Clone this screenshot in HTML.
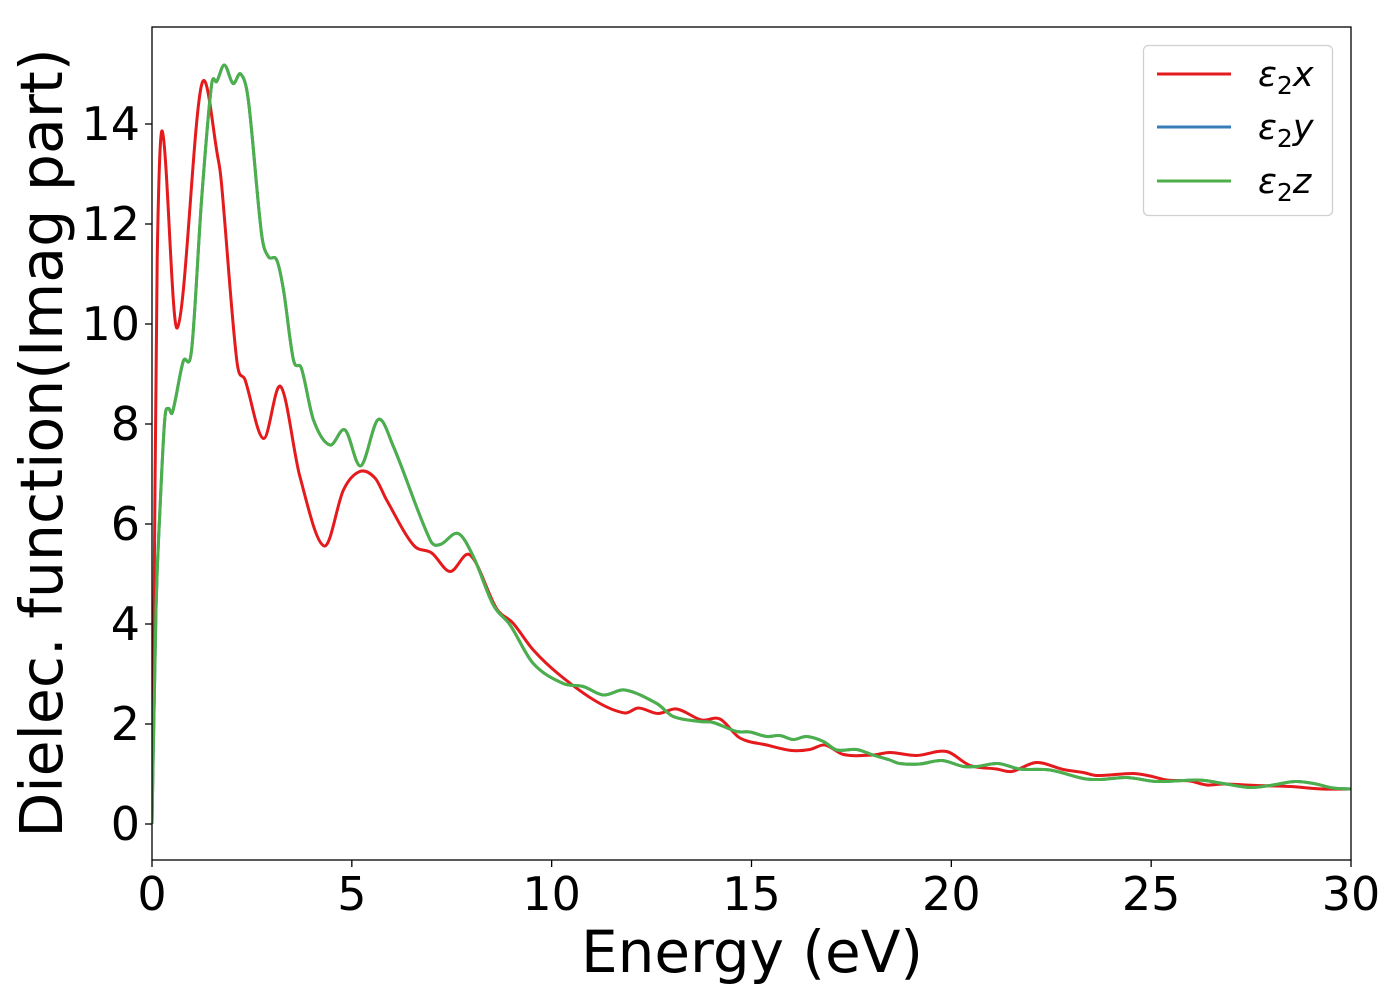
<!DOCTYPE html>
<html><head><meta charset="utf-8"><style>
html,body{margin:0;padding:0;background:#fff;}
svg{display:block;font-family:"DejaVu Sans","Liberation Sans",sans-serif;}
</style></head><body>
<svg id="chart" width="1400" height="1000" viewBox="0 0 1400 1000">
<defs><clipPath id="clip"><rect x="152" y="27" width="1199" height="833"/></clipPath></defs>
<rect x="0" y="0" width="1400" height="1000" fill="#fff"/>
<g id="series" clip-path="url(#clip)"></g>
<rect x="152" y="27" width="1199" height="833" fill="none" stroke="#000" stroke-width="1.3"/>
<g id="xticks"></g>
<g id="yticks"></g>
<text x="752" y="972" font-size="58" text-anchor="middle">Energy (eV)</text>
<text transform="translate(62,443) rotate(-90)" font-size="58.5" text-anchor="middle">Dielec. function(Imag part)</text>
<g>
<rect x="1143.5" y="45.5" width="189" height="170" rx="5" fill="#fff" fill-opacity="0.8" stroke="#d0d0d0" stroke-width="1.3"/>
<g><line x1="1157" y1="74" x2="1231" y2="74" stroke="#e41a1c" stroke-width="3"/><text x="1258" y="86" font-size="35" font-style="italic">ε<tspan font-style="normal" font-size="25" dy="8">2</tspan><tspan dy="-8">x</tspan></text></g>
<g><line x1="1157" y1="127" x2="1231" y2="127" stroke="#377eb8" stroke-width="3"/><text x="1258" y="139" font-size="35" font-style="italic">ε<tspan font-style="normal" font-size="25" dy="8">2</tspan><tspan dy="-8">y</tspan></text></g>
<g><line x1="1157" y1="181" x2="1231" y2="181" stroke="#4daf4a" stroke-width="3"/><text x="1258" y="193" font-size="35" font-style="italic">ε<tspan font-style="normal" font-size="25" dy="8">2</tspan><tspan dy="-8">z</tspan></text></g>
</g>
</svg>
<script>
const xTicks=[0,5,10,15,20,25,30];
const yTicks=[0,2,4,6,8,10,12,14];
const redE=[0,0.05,0.13,0.26,0.63,1.24,1.66,1.74,2.12,2.33,2.79,3.22,3.70,4.31,4.79,5.20,5.58,5.87,6.54,7.0,7.46,7.96,8.62,9.03,9.54,10.2,11.12,11.83,12.17,12.66,13.13,13.75,14.21,14.71,15.38,16.0,16.46,16.84,17.3,18.04,18.46,19.13,19.88,20.47,21.13,21.51,22.13,22.8,23.3,23.63,24.55,24.97,25.39,25.97,26.39,26.81,27.64,28.47,29.3,30];
const redV=[0,4.3,11.3,13.85,9.92,14.78,13.28,12.8,9.28,8.88,7.71,8.75,6.95,5.56,6.68,7.05,6.92,6.48,5.58,5.42,5.05,5.38,4.31,4.02,3.48,2.98,2.45,2.22,2.32,2.21,2.3,2.08,2.1,1.72,1.58,1.47,1.49,1.58,1.39,1.38,1.43,1.37,1.45,1.17,1.1,1.05,1.23,1.09,1.03,0.97,1.01,0.96,0.88,0.86,0.78,0.8,0.77,0.75,0.7,0.7];
const greenE=[0,0.1,0.2,0.32,0.41,0.51,0.78,0.99,1.24,1.49,1.62,1.81,2.03,2.22,2.41,2.74,2.91,3.12,3.29,3.54,3.74,4.04,4.45,4.83,5.22,5.66,6.04,6.96,7.21,7.66,8.04,8.54,8.96,9.54,10.29,10.79,11.29,11.83,12.63,13.04,13.71,14.04,14.63,14.96,15.38,15.71,16.04,16.38,16.8,17.13,17.63,18.04,18.46,18.71,19.21,19.76,20.3,20.63,21.17,21.71,22.47,23.3,23.72,24.39,25.14,26.2,26.8,27.47,27.97,28.6,29.07,29.55,30];
const greenV=[0,4.3,6.3,8.1,8.31,8.23,9.25,9.48,12.48,14.78,14.85,15.18,14.81,15.0,14.48,11.81,11.35,11.28,10.68,9.28,9.11,8.08,7.58,7.88,7.16,8.09,7.55,5.68,5.59,5.81,5.35,4.38,3.98,3.21,2.81,2.75,2.58,2.68,2.41,2.15,2.05,2.03,1.85,1.84,1.75,1.77,1.69,1.75,1.65,1.48,1.49,1.38,1.28,1.21,1.2,1.27,1.15,1.15,1.21,1.1,1.08,0.91,0.89,0.93,0.85,0.88,0.81,0.73,0.77,0.85,0.81,0.72,0.7];
const blueE=greenE.slice();
const blueV=greenV.slice();

const NS="http://www.w3.org/2000/svg";
function xs(e){return 152+e*(1199/30);}
function ys(v){return 824-v*50;}
function smooth(E,V){
  const p=E.map((e,i)=>[xs(e),ys(V[i])]);
  const n=p.length;
  const m=p.map((q,i)=>{
    const a=p[Math.max(0,i-1)],b=p[Math.min(n-1,i+1)];
    return (b[1]-a[1])/(b[0]-a[0]);
  });
  let d="M"+p[0][0].toFixed(2)+","+p[0][1].toFixed(2);
  for(let i=0;i<n-1;i++){
    const p1=p[i],p2=p[i+1],dx=(p2[0]-p1[0])/3;
    d+=" C"+(p1[0]+dx).toFixed(2)+","+(p1[1]+m[i]*dx).toFixed(2)+" "+(p2[0]-dx).toFixed(2)+","+(p2[1]-m[i+1]*dx).toFixed(2)+" "+p2[0].toFixed(2)+","+p2[1].toFixed(2);
  }
  return d;
}
const g=document.getElementById("series");
function addLine(E,V,color,name){
  const el=document.createElementNS(NS,"path");
  el.setAttribute("d",smooth(E,V));
  el.setAttribute("fill","none");
  el.setAttribute("stroke",color);
  el.setAttribute("stroke-width","3");
  el.setAttribute("stroke-linejoin","round");
  
  
  g.appendChild(el);
}
addLine(redE,redV,"#e41a1c","series-eps2-x");
addLine(blueE,blueV,"#377eb8","series-eps2-y");
addLine(greenE,greenV,"#4daf4a","series-eps2-z");

const xg=document.getElementById("xticks");
xTicks.forEach(t=>{
  const x=xs(t);
  const l=document.createElementNS(NS,"line");
  l.setAttribute("x1",x);l.setAttribute("x2",x);l.setAttribute("y1",860);l.setAttribute("y2",867);
  l.setAttribute("stroke","#000");l.setAttribute("stroke-width","1.3");
  
  
  xg.appendChild(l);
  const tx=document.createElementNS(NS,"text");
  tx.setAttribute("x",x);tx.setAttribute("y",910);tx.setAttribute("font-size","46");tx.setAttribute("text-anchor","middle");
  tx.textContent=t;
  
  
  xg.appendChild(tx);
});
const yg=document.getElementById("yticks");
yTicks.forEach(t=>{
  const y=ys(t);
  const l=document.createElementNS(NS,"line");
  l.setAttribute("x1",145);l.setAttribute("x2",152);l.setAttribute("y1",y);l.setAttribute("y2",y);
  l.setAttribute("stroke","#000");l.setAttribute("stroke-width","1.3");
  
  
  yg.appendChild(l);
  const tx=document.createElementNS(NS,"text");
  tx.setAttribute("x",140);tx.setAttribute("y",y+16);tx.setAttribute("font-size","46");tx.setAttribute("text-anchor","end");
  tx.textContent=t;
  
  
  yg.appendChild(tx);
});
</script>
</body></html>
